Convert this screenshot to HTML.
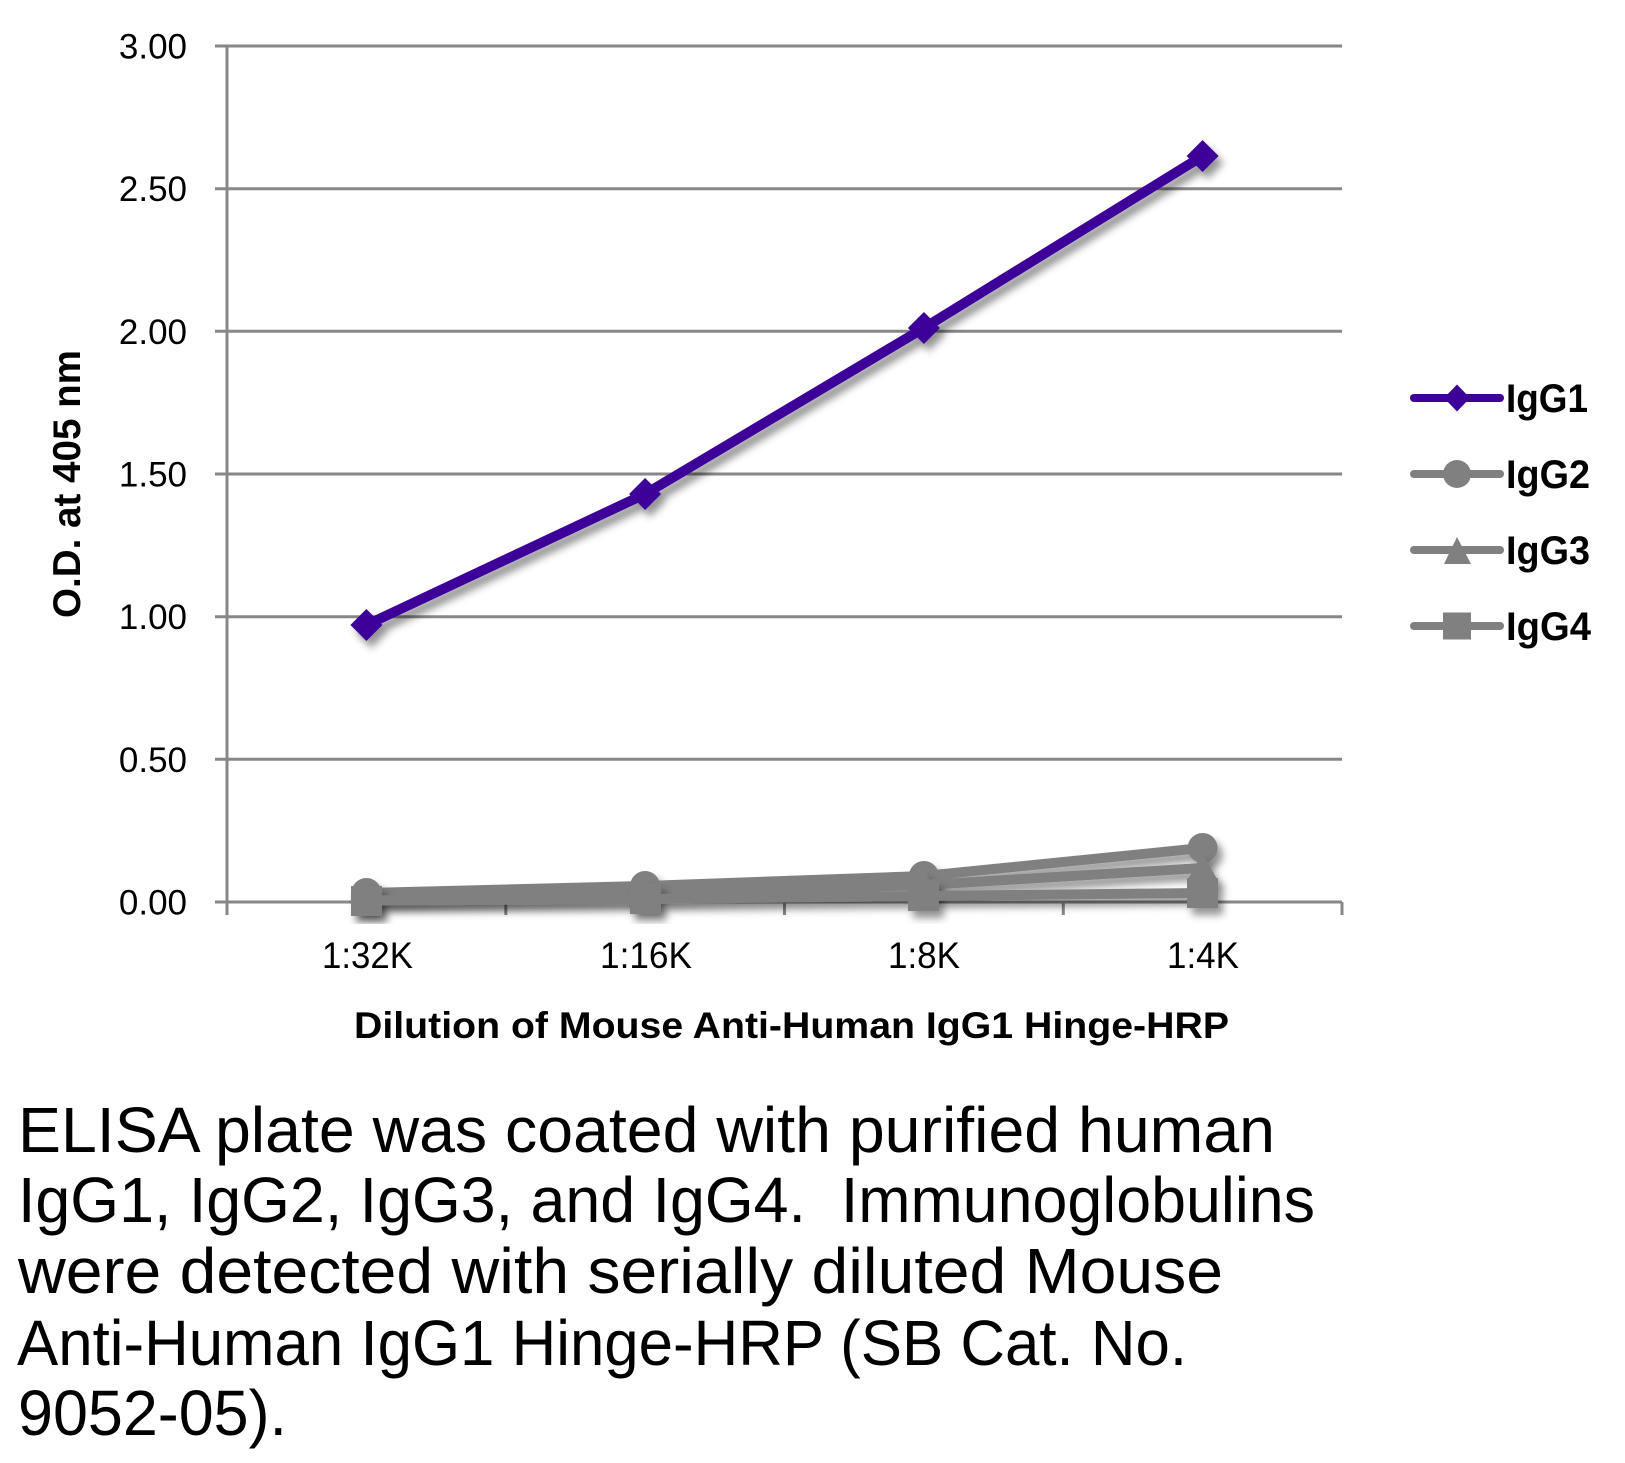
<!DOCTYPE html>
<html>
<head>
<meta charset="utf-8">
<style>
html,body{margin:0;padding:0;background:#fff;}
svg{display:block;}
text{font-family:"Liberation Sans",sans-serif;}
</style>
</head>
<body>
<svg width="1625" height="1463" viewBox="0 0 1625 1463" xmlns="http://www.w3.org/2000/svg">
<defs>
<filter id="sh" x="-20%" y="-20%" width="140%" height="140%">
<feDropShadow dx="5" dy="7" stdDeviation="4" flood-color="#000" flood-opacity="0.42"/>
</filter>
</defs>
<rect width="1625" height="1463" fill="#fff"/>

<!-- gridlines -->
<g stroke="#878787" stroke-width="3">
<line x1="215" y1="46" x2="1342" y2="46"/>
<line x1="215" y1="188.7" x2="1342" y2="188.7"/>
<line x1="215" y1="331.3" x2="1342" y2="331.3"/>
<line x1="215" y1="474" x2="1342" y2="474"/>
<line x1="215" y1="616.7" x2="1342" y2="616.7"/>
<line x1="215" y1="759.3" x2="1342" y2="759.3"/>
<line x1="215" y1="902" x2="1342" y2="902"/>
<line x1="227" y1="46" x2="227" y2="915"/>
<line x1="505.8" y1="902" x2="505.8" y2="915"/>
<line x1="784.5" y1="902" x2="784.5" y2="915"/>
<line x1="1063.3" y1="902" x2="1063.3" y2="915"/>
<line x1="1342" y1="902" x2="1342" y2="915"/>
</g>

<!-- y tick labels -->
<g font-size="35" fill="#000" text-anchor="end">
<text x="187" y="58.5">3.00</text>
<text x="187" y="201">2.50</text>
<text x="187" y="344">2.00</text>
<text x="187" y="486.5">1.50</text>
<text x="187" y="629">1.00</text>
<text x="187" y="772">0.50</text>
<text x="187" y="914.5">0.00</text>
</g>

<!-- x tick labels -->
<g font-size="37" fill="#000">
<text x="322" y="968" textLength="91" lengthAdjust="spacingAndGlyphs">1:32K</text>
<text x="600" y="968" textLength="92" lengthAdjust="spacingAndGlyphs">1:16K</text>
<text x="888" y="968" textLength="72" lengthAdjust="spacingAndGlyphs">1:8K</text>
<text x="1167" y="968" textLength="72" lengthAdjust="spacingAndGlyphs">1:4K</text>
</g>

<!-- axis titles -->
<text x="354" y="1038" font-size="37" font-weight="bold" textLength="875" lengthAdjust="spacingAndGlyphs">Dilution of Mouse Anti-Human IgG1 Hinge-HRP</text>
<text transform="translate(80,618) rotate(-90)" x="0" y="0" font-size="39" font-weight="bold" textLength="268" lengthAdjust="spacingAndGlyphs">O.D. at 405 nm</text>

<!-- gray series -->
<g filter="url(#sh)">
<polyline points="366.4,893 645.1,886 923.9,876 1202.6,848" fill="none" stroke="#808080" stroke-width="10" stroke-linejoin="round"/>
<g fill="#808080">
<circle cx="366.4" cy="893" r="15"/>
<circle cx="645.1" cy="886" r="15"/>
<circle cx="923.9" cy="876" r="15"/>
<circle cx="1202.6" cy="848" r="15"/>
</g>
</g>
<g filter="url(#sh)">
<polyline points="366.4,898 645.1,893.5 923.9,885 1202.6,868" fill="none" stroke="#808080" stroke-width="10" stroke-linejoin="round"/>
<g fill="#808080">
<polygon points="366.4,883 382,911 351,911"/>
<polygon points="645.1,879 661,907 629,907"/>
<polygon points="923.9,870 940,898 908,898"/>
<polygon points="1202.6,853 1218,881 1187,881"/>
</g>
</g>
<g filter="url(#sh)">
<polyline points="366.4,900.5 645.1,899 923.9,896 1202.6,893" fill="none" stroke="#808080" stroke-width="10" stroke-linejoin="round"/>
<g fill="#808080">
<rect x="351" y="886" width="31" height="30"/>
<rect x="630" y="884" width="31" height="30"/>
<rect x="908" y="881" width="31" height="30"/>
<rect x="1187" y="878" width="31" height="30"/>
</g>
</g>

<!-- IgG1 series -->
<g filter="url(#sh)">
<polyline points="366.4,625 645.1,494 923.9,328 1202.6,156" fill="none" stroke="#3D0099" stroke-width="10" stroke-linejoin="round"/>
<g fill="#3D0099">
<polygon points="366.4,609 382.4,625 366.4,641 350.4,625"/>
<polygon points="645.1,478 661.1,494 645.1,510 629.1,494"/>
<polygon points="923.9,312 939.9,328 923.9,344 907.9,328"/>
<polygon points="1202.6,140 1218.6,156 1202.6,172 1186.6,156"/>
</g>
</g>

<!-- legend -->
<g stroke-width="8" stroke-linecap="round">
<line x1="1414" y1="398" x2="1500" y2="398" stroke="#3D0099"/>
<line x1="1414" y1="474" x2="1500" y2="474" stroke="#808080"/>
<line x1="1414" y1="550" x2="1500" y2="550" stroke="#808080"/>
<line x1="1414" y1="626" x2="1500" y2="626" stroke="#808080"/>
</g>
<polygon points="1457,384.5 1470,398 1457,411.5 1444,398" fill="#3D0099"/>
<circle cx="1457" cy="474" r="14" fill="#808080"/>
<polygon points="1457,537 1471,564 1444,564" fill="#808080"/>
<rect x="1443" y="612.5" width="28" height="27" fill="#808080"/>
<g font-size="40" font-weight="bold" fill="#000">
<text x="1506" y="412" textLength="82" lengthAdjust="spacingAndGlyphs">IgG1</text>
<text x="1506" y="488" textLength="84" lengthAdjust="spacingAndGlyphs">IgG2</text>
<text x="1506" y="564" textLength="84" lengthAdjust="spacingAndGlyphs">IgG3</text>
<text x="1506" y="640" textLength="85" lengthAdjust="spacingAndGlyphs">IgG4</text>
</g>

<!-- caption -->
<g font-size="64" fill="#000">
<text x="18" y="1152" textLength="1257" lengthAdjust="spacingAndGlyphs">ELISA plate was coated with purified human</text>
<text x="18" y="1222" textLength="1297" lengthAdjust="spacingAndGlyphs" xml:space="preserve">IgG1, IgG2, IgG3, and IgG4.  Immunoglobulins</text>
<text x="18" y="1293" textLength="1205" lengthAdjust="spacingAndGlyphs">were detected with serially diluted Mouse</text>
<text x="17" y="1365" textLength="1170" lengthAdjust="spacingAndGlyphs">Anti-Human IgG1 Hinge-HRP (SB Cat. No.</text>
<text x="18" y="1435" textLength="269" lengthAdjust="spacingAndGlyphs">9052-05).</text>
</g>
</svg>
</body>
</html>
